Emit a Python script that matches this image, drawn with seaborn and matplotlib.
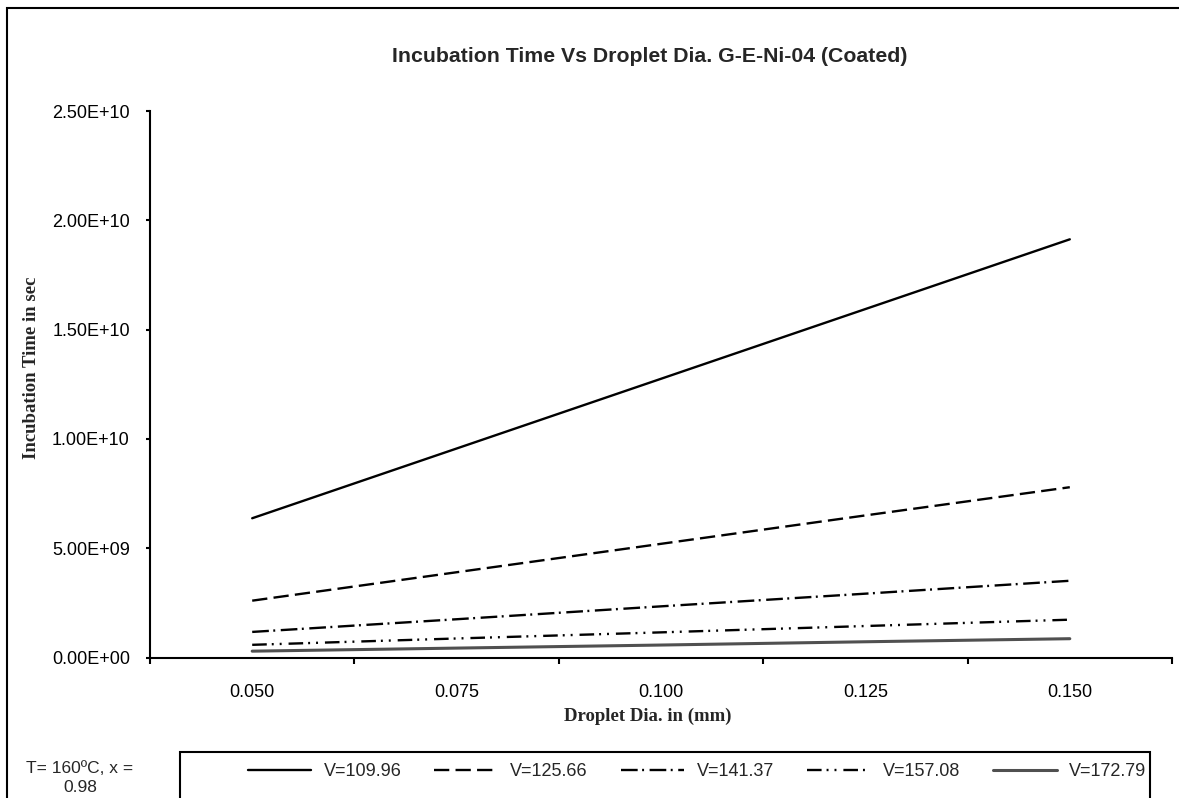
import pandas as pd
import numpy as np
import matplotlib
matplotlib.use("Agg")
import matplotlib.pyplot as plt
from matplotlib.patches import Rectangle
from matplotlib.ticker import FixedLocator, FuncFormatter
import seaborn as sns

# Data (incubation time in sec per droplet diameter)
droplet_dia = [0.050, 0.075, 0.100, 0.125, 0.150]
series_names = ["V=109.96", "V=125.66", "V=141.37", "V=157.08", "V=172.79"]
t_v10996 = [6.37e9, 9.56e9, 12.75e9, 15.94e9, 19.13e9]
t_v12566 = [2.60e9, 3.90e9, 5.20e9, 6.50e9, 7.79e9]
t_v14137 = [1.17e9, 1.75e9, 2.34e9, 2.92e9, 3.51e9]
t_v15708 = [0.58e9, 0.87e9, 1.15e9, 1.44e9, 1.73e9]
t_v17279 = [0.29e9, 0.43e9, 0.57e9, 0.72e9, 0.86e9]
y_ticks = [0, 5e9, 1e10, 1.5e10, 2e10, 2.5e10]

values = [t_v10996, t_v12566, t_v14137, t_v15708, t_v17279]
rows = []
for name, vals in zip(series_names, values):
    for i, v in enumerate(vals):
        rows.append({"pos": i, "time": v, "series": name})
df = pd.DataFrame(rows)

sns.set_style("ticks")
plt.rcParams['font.family'] = ['Liberation Sans', 'DejaVu Sans']
plt.rcParams['lines.scale_dashes'] = False

W, H = 1179, 798
fig = plt.figure(figsize=(W / 100, H / 100), dpi=100)
fig.patch.set_facecolor('white')


def fx(x):
    return x / W


def fy(y):
    return 1 - y / H


ax = fig.add_axes([fx(150), fy(657.5), (1172 - 150) / W, (657.5 - 111) / H])
ax.set_facecolor('white')

# line styles (Excel-like dash patterns, in points)
styles = {
    "V=109.96": dict(color='black', lw=1.7, ls='-'),
    "V=125.66": dict(color='black', lw=1.7, ls=(0, (11, 4.5))),
    "V=141.37": dict(color='black', lw=1.7, ls=(0, (12, 3.2, 1.4, 4))),
    "V=157.08": dict(color='black', lw=1.7, ls=(0, (10.5, 3.6, 1.4, 4.3, 1.4, 5))),
    "V=172.79": dict(color='#505050', lw=2.2, ls='-'),
}

for name in series_names:
    st = styles[name]
    sns.lineplot(data=df[df["series"] == name], x="pos", y="time", ax=ax,
                 color=st['color'], linewidth=st['lw'], linestyle=st['ls'],
                 label=name, legend=False)

ax.set_xlim(-0.5, 4.5)
ax.set_ylim(0, 2.5e10)
ax.set_xlabel('')
ax.set_ylabel('')

for s in ['top', 'right']:
    ax.spines[s].set_visible(False)
for s in ['left', 'bottom']:
    ax.spines[s].set_linewidth(1.5)
    ax.spines[s].set_color('black')

ax.xaxis.set_major_locator(FixedLocator([-0.5, 0.5, 1.5, 2.5, 3.5, 4.5]))
ax.xaxis.set_minor_locator(FixedLocator(range(len(droplet_dia))))
ax.xaxis.set_major_formatter(FuncFormatter(lambda v, p: ''))
ax.xaxis.set_minor_formatter(FuncFormatter(lambda v, p: f"{droplet_dia[int(round(v))]:.3f}"))
ax.tick_params(axis='x', which='major', direction='out', length=4.5, width=1.5, color='black')
ax.tick_params(axis='x', which='minor', length=0, pad=19, labelsize=13, labelcolor='black')

ax.yaxis.set_major_locator(FixedLocator(y_ticks))
ax.yaxis.set_major_formatter(FuncFormatter(lambda v, p: f"{v:.2E}"))
ax.tick_params(axis='y', which='major', direction='out', length=3, width=1.5, pad=11.5,
               labelsize=13, color='black', labelcolor='black')
ax.grid(False)

# titles and axis labels
fig.text(fx(650), fy(57), 'Incubation Time Vs Droplet Dia. G-E-Ni-04 (Coated)',
         ha='center', va='center', fontsize=15.3, fontweight='bold')
fig.text(fx(648), fy(716), 'Droplet Dia. in (mm)', ha='center', va='center',
         fontsize=13.5, fontweight='bold', family=['Liberation Serif', 'DejaVu Serif'])
fig.text(fx(32), fy(368), 'Incubation Time in sec', ha='center', va='center', rotation=90,
         fontsize=13.5, fontweight='bold', family=['Liberation Serif', 'DejaVu Serif'])

# condition note
fig.text(fx(80), fy(778), 'T= 160ºC, x =\n0.98', ha='center', va='center',
         fontsize=12.5, linespacing=1.3)

# legend in a box along the bottom
handles, labels = ax.get_legend_handles_labels()
fig.legend(handles, labels, ncol=5, loc='center', mode='expand',
           bbox_to_anchor=(fx(244), fy(792), (1150 - 244) / W, 40 / H),
           frameon=False, fontsize=13, handlelength=3.5, handletextpad=0.7,
           borderpad=0.2, borderaxespad=0)
fig.add_artist(Rectangle((fx(180), fy(806)), (1150 - 180) / W, (806 - 752) / H,
                         transform=fig.transFigure, fill=False, edgecolor='black', lw=1.5))

# outer chart frame
fig.add_artist(Rectangle((fx(7), fy(812)), (1192 - 7) / W, (812 - 8) / H,
                         transform=fig.transFigure, fill=False, edgecolor='black', lw=1.5))

fig.savefig("out.png", dpi=100)
